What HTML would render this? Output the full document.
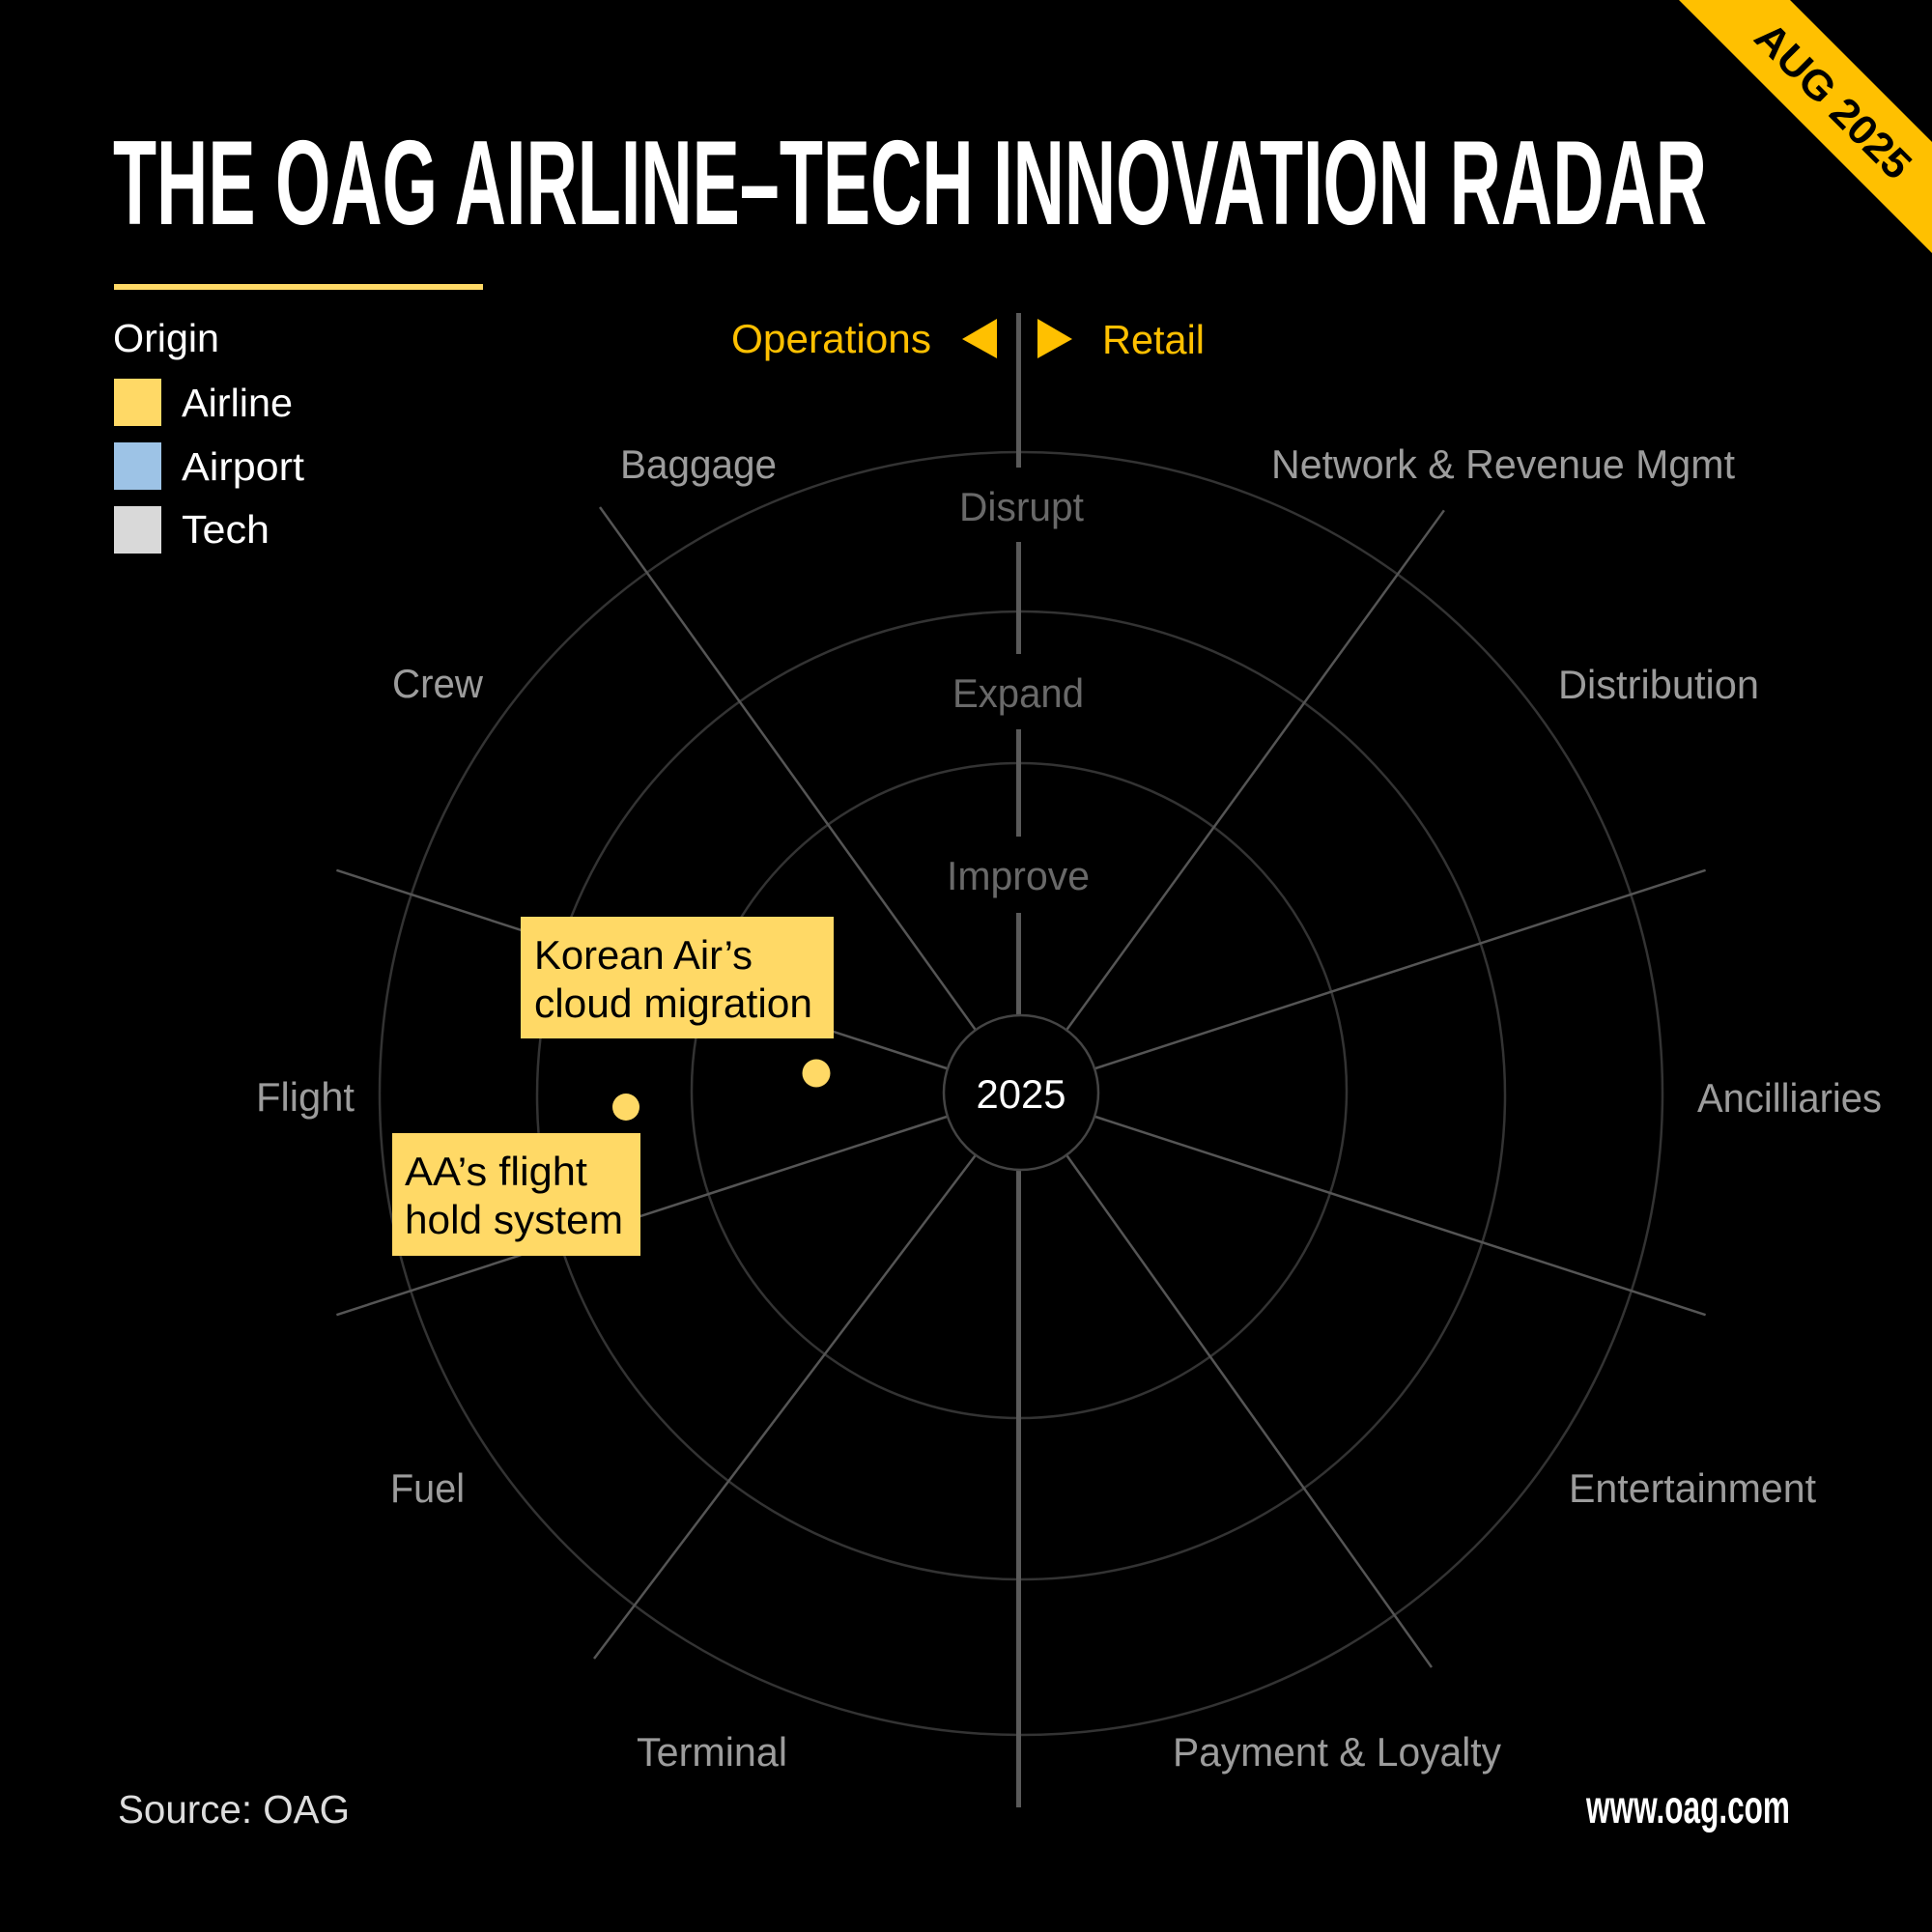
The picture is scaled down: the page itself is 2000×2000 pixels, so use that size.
<!DOCTYPE html>
<html>
<head>
<meta charset="utf-8">
<style>
  html, body { margin:0; padding:0; background:#000; }
  svg { display:block; }
  text { font-family: "Liberation Sans", "DejaVu Sans", sans-serif; }
</style>
</head>
<body>
<svg width="2000" height="2000" viewBox="0 0 2000 2000" xmlns="http://www.w3.org/2000/svg">
  <rect x="0" y="0" width="2000" height="2000" fill="#000"/>

  <!-- Corner ribbon -->
  <polygon points="1738,0 1853,0 2000,147 2000,262" fill="#FFC000"/>
  <text x="0" y="15" transform="translate(1898,104) rotate(45)" text-anchor="middle" font-size="43" font-weight="bold" fill="#000" textLength="208" lengthAdjust="spacingAndGlyphs">AUG 2025</text>

  <!-- Title -->
  <text x="117" y="232" font-size="124" font-weight="bold" fill="#fff" textLength="1650" lengthAdjust="spacingAndGlyphs">THE OAG AIRLINE–TECH INNOVATION RADAR</text>

  <!-- underline bar -->
  <rect x="118" y="294" width="382" height="6" fill="#FFD966"/>

  <!-- Legend -->
  <text x="117" y="364" font-size="41" fill="#fff" textLength="110" lengthAdjust="spacingAndGlyphs">Origin</text>
  <rect x="118" y="392" width="49" height="49" fill="#FFD966"/>
  <text x="188" y="431" font-size="41" fill="#fff" textLength="115" lengthAdjust="spacingAndGlyphs">Airline</text>
  <rect x="118" y="458" width="49" height="49" fill="#9DC3E6"/>
  <text x="188" y="497" font-size="41" fill="#fff" textLength="127" lengthAdjust="spacingAndGlyphs">Airport</text>
  <rect x="118" y="524" width="49" height="49" fill="#D9D9D9"/>
  <text x="188" y="562" font-size="41" fill="#fff" textLength="91" lengthAdjust="spacingAndGlyphs">Tech</text>

  <!-- Operations / Retail -->
  <text x="757" y="365" font-size="42" fill="#FFC000" textLength="207" lengthAdjust="spacingAndGlyphs">Operations</text>
  <polygon points="996,351 1032,330 1032,371" fill="#FFC000"/>
  <polygon points="1074,330 1110,351 1074,371" fill="#FFC000"/>
  <text x="1141" y="366" font-size="42" fill="#FFC000" textLength="106" lengthAdjust="spacingAndGlyphs">Retail</text>

  <!-- Rings -->
  <g fill="none" stroke="#333" stroke-width="2.5">
    <circle cx="1055" cy="1129" r="339"/>
    <circle cx="1057" cy="1134" r="501"/>
    <circle cx="1057" cy="1132" r="664"/>
  </g>

  <!-- Spokes -->
  <g stroke="#555" stroke-width="2.5" stroke-linecap="butt">
    <line x1="1104.6" y1="1065.5" x2="1494.9" y2="528.3"/>
    <line x1="1134.0" y1="1106.0" x2="1765.6" y2="900.8"/>
    <line x1="1134.0" y1="1156.0" x2="1765.6" y2="1361.2"/>
    <line x1="1104.6" y1="1196.5" x2="1482" y2="1726"/>
    <line x1="1009.4" y1="1196.5" x2="615" y2="1717"/>
    <line x1="980.0" y1="1156.0" x2="348.4" y2="1361.2"/>
    <line x1="980.0" y1="1106.0" x2="348.4" y2="900.8"/>
    <line x1="1009.4" y1="1065.5" x2="621" y2="525"/>
  </g>

  <!-- Vertical divider -->
  <g stroke="#5a5a5a" stroke-width="5">
    <line x1="1054.5" y1="324" x2="1054.5" y2="484"/>
    <line x1="1054.5" y1="561" x2="1054.5" y2="677"/>
    <line x1="1054.5" y1="755" x2="1054.5" y2="866"/>
    <line x1="1054.5" y1="945" x2="1054.5" y2="1050"/>
    <line x1="1054.5" y1="1212" x2="1054.5" y2="1871"/>
  </g>

  <!-- Center circle -->
  <circle cx="1057" cy="1131" r="80" fill="#000" stroke="#444" stroke-width="2.5"/>
  <text x="1057" y="1147" font-size="42" fill="#fff" text-anchor="middle" textLength="93" lengthAdjust="spacingAndGlyphs">2025</text>

  <!-- Ring labels -->
  <g font-size="42" fill="#696969">
    <text x="993" y="539" textLength="129" lengthAdjust="spacingAndGlyphs">Disrupt</text>
    <text x="986" y="732" textLength="136" lengthAdjust="spacingAndGlyphs">Expand</text>
    <text x="980" y="921" textLength="148" lengthAdjust="spacingAndGlyphs">Improve</text>
  </g>

  <!-- Category labels -->
  <g font-size="42" fill="#9c9c9c">
    <text x="642" y="495" textLength="162" lengthAdjust="spacingAndGlyphs">Baggage</text>
    <text x="1316" y="495" textLength="480" lengthAdjust="spacingAndGlyphs">Network &amp; Revenue Mgmt</text>
    <text x="406" y="722" textLength="94" lengthAdjust="spacingAndGlyphs">Crew</text>
    <text x="1613" y="723" textLength="208" lengthAdjust="spacingAndGlyphs">Distribution</text>
    <text x="265" y="1150" textLength="102" lengthAdjust="spacingAndGlyphs">Flight</text>
    <text x="1757" y="1151" textLength="191" lengthAdjust="spacingAndGlyphs">Ancilliaries</text>
    <text x="404" y="1555" textLength="77" lengthAdjust="spacingAndGlyphs">Fuel</text>
    <text x="1624" y="1555" textLength="256" lengthAdjust="spacingAndGlyphs">Entertainment</text>
    <text x="659" y="1828" textLength="156" lengthAdjust="spacingAndGlyphs">Terminal</text>
    <text x="1214" y="1828" textLength="340" lengthAdjust="spacingAndGlyphs">Payment &amp; Loyalty</text>
  </g>

  <!-- Annotation: Korean Air -->
  <rect x="539" y="949" width="324" height="126" fill="#FFD966"/>
  <text x="553" y="1003" font-size="42" fill="#000" textLength="226" lengthAdjust="spacingAndGlyphs">Korean Air’s</text>
  <text x="553" y="1053" font-size="42" fill="#000" textLength="288" lengthAdjust="spacingAndGlyphs">cloud migration</text>
  <circle cx="845" cy="1111" r="14.5" fill="#FFD966"/>

  <!-- Annotation: AA -->
  <rect x="406" y="1173" width="257" height="127" fill="#FFD966"/>
  <text x="419" y="1227" font-size="42" fill="#000" textLength="189" lengthAdjust="spacingAndGlyphs">AA’s flight</text>
  <text x="419" y="1277" font-size="42" fill="#000" textLength="226" lengthAdjust="spacingAndGlyphs">hold system</text>
  <circle cx="648" cy="1146" r="14" fill="#FFD966"/>

  <!-- Footer -->
  <text x="122" y="1887" font-size="41" fill="#ddd" textLength="240" lengthAdjust="spacingAndGlyphs">Source: OAG</text>
  <text x="1642" y="1887" font-size="48" font-weight="bold" fill="#fff" textLength="211" lengthAdjust="spacingAndGlyphs">www.oag.com</text>
</svg>
</body>
</html>
